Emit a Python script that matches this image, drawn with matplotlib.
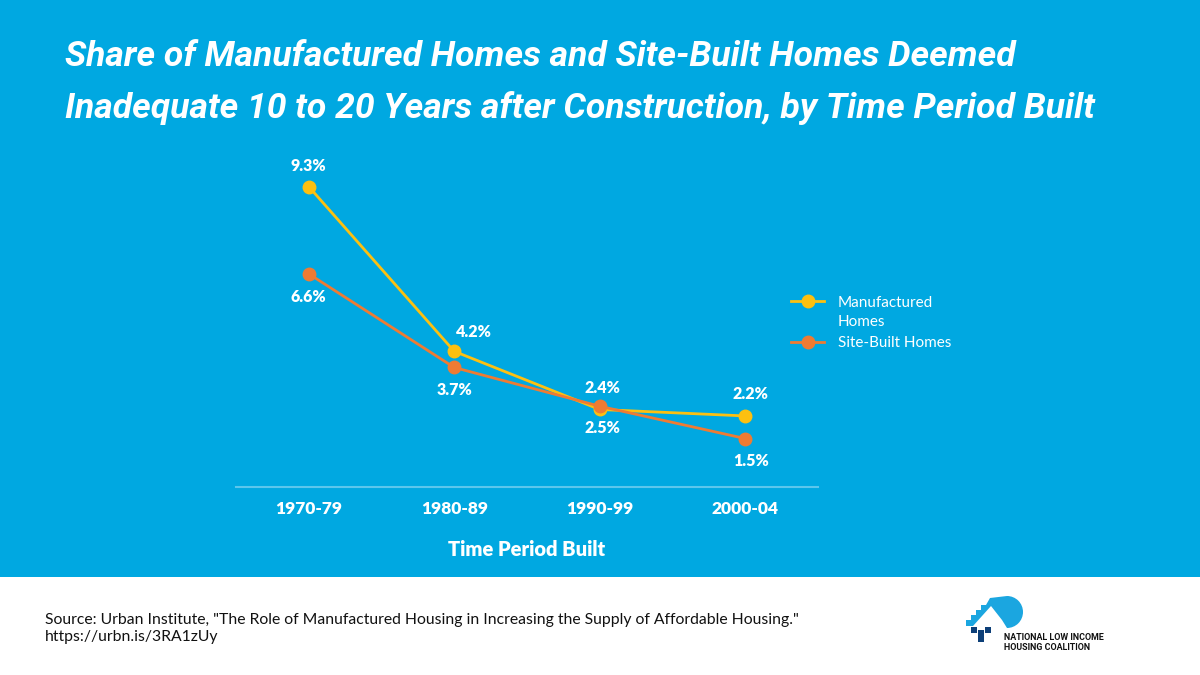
import matplotlib
matplotlib.use("Agg")
import matplotlib.pyplot as plt
from matplotlib.patches import Rectangle, Wedge, Polygon

periods = ["1970-79", "1980-89", "1990-99", "2000-04"]
manufactured = [9.3, 4.2, 2.4, 2.2]
site_built = [6.6, 3.7, 2.5, 1.5]
series_names = ["Manufactured", "Site-Built Homes"]
name_cont = "Homes"  # second line of the first legend label

BLUE = "#00A8E1"
YELLOW = "#FDC010"
ORANGE = "#EE7B33"
FONT = "Lato"
TFONT = "Roboto"

fig = plt.figure(figsize=(12, 6.75), dpi=100)
fig.patch.set_facecolor("white")
fig.add_artist(Rectangle((0, 1 - 577 / 675), 1, 577 / 675, transform=fig.transFigure,
                         facecolor=BLUE, edgecolor="none", zorder=0))

t1 = fig.text(65 / 1200, 1 - 56 / 675,
              "Share of Manufactured Homes and Site-Built Homes Deemed",
              family=TFONT, weight="bold", style="italic",
              fontsize=30, color="white", va="center", ha="left")
t2 = fig.text(65 / 1200, 1 - 108 / 675,
              "Inadequate 10 to 20 Years after Construction, by Time Period Built",
              family=TFONT, weight="bold", style="italic",
              fontsize=30, color="white", va="center", ha="left")
r = fig.canvas.get_renderer()
w2 = t2.get_window_extent(r).width
fs = 30 * 1028 / w2
t1.set_fontsize(fs)
t2.set_fontsize(fs)

ax = fig.add_axes([236 / 1200, 1 - 487 / 675, (818 - 236) / 1200, (487 - 164) / 675])
ax.set_facecolor("none")
x = list(range(len(periods)))
l1, = ax.plot(x, manufactured, color=YELLOW, lw=2, marker="o", ms=9, zorder=3)
l2, = ax.plot(x, site_built, color=ORANGE, lw=2, marker="o", ms=9, zorder=3)
ax.set_xlim(-0.5, 3.5)
ax.set_ylim(0, 10)
for s in ["top", "right", "left"]:
    ax.spines[s].set_visible(False)
ax.spines["bottom"].set_color("#5CC6EC")
ax.spines["bottom"].set_linewidth(1.5)
ax.set_yticks([])
ax.set_xticks(x)
ax.set_xticklabels(periods, family=FONT, weight="heavy", fontsize=12.5, color="white")
ax.tick_params(axis="x", length=0, pad=10)
ax.set_xlabel("Time Period Built", family=FONT, weight="heavy", fontsize=14.5,
              color="white", labelpad=17)

lab_kw = dict(family=FONT, weight="heavy", fontsize=11.5, color="white",
              ha="center", va="center", textcoords="offset points")
m_off = [(0, 15), (14, 14), (2, 15.5), (4, 15.5)]
s_off = [(0, -16.5), (0, -16), (2, -16), (4, -16.5)]
for i, v in enumerate(manufactured):
    ax.annotate(f"{v}%", (x[i], v), xytext=m_off[i], **lab_kw)
for i, v in enumerate(site_built):
    ax.annotate(f"{v}%", (x[i], v), xytext=s_off[i], **lab_kw)

leg = fig.legend([l1, l2], series_names, loc="upper left",
                 bbox_to_anchor=(777 / 1200, 1 - 282 / 675), frameon=False,
                 prop=dict(family=FONT, size=11), labelcolor="white",
                 handlelength=2.2, handletextpad=0.9, labelspacing=1.75)
fig.canvas.draw()
tb = leg.get_texts()[0].get_window_extent(r)
yc = (tb.y0 + tb.y1) / 2 - 19
fig.text(tb.x0 / fig.bbox.width, yc / fig.bbox.height, name_cont,
         family=FONT, fontsize=11, color="white", ha="left", va="center")

src_kw = dict(family=FONT, fontsize=11.3, color="#111111", va="center", ha="left")
fig.text(45 / 1200, 1 - 620 / 675,
         'Source: Urban Institute, "The Role of Manufactured Housing in Increasing the Supply of Affordable Housing."',
         **src_kw)
fig.text(45 / 1200, 1 - 637 / 675, "https://urbn.is/3RA1zUy", **src_kw)

# logo (simplified), pixel coordinates
lax = fig.add_axes([960 / 1200, 1 - 660 / 675, 150 / 1200, 70 / 675])
lax.set_xlim(960, 1110)
lax.set_ylim(660, 590)
lax.axis("off")
LB = "#1BA6E0"
DB = "#0D3F78"
lax.add_patch(Wedge((1007, 612), 16, -90, 90, facecolor=LB, edgecolor="none"))
lax.add_patch(Polygon([(966, 626), (966, 620), (971, 620), (971, 615), (976, 615),
                       (976, 610), (981, 610), (981, 605), (986, 605), (990, 598),
                       (1007, 596), (1007, 628), (1002, 620), (991, 606), (973, 626)],
                      closed=True, facecolor=LB, edgecolor="none"))
for (px, py) in [(971, 627), (978, 630), (985, 627), (978, 636)]:
    lax.add_patch(Rectangle((px, py), 6, 6, facecolor=DB, edgecolor="none"))
lax.text(1004, 637, "NATIONAL LOW INCOME", fontsize=6.4, weight="bold",
         color="#111111", va="center", ha="left", family="Roboto")
lax.text(1004, 647, "HOUSING COALITION", fontsize=6.4, weight="bold",
         color="#111111", va="center", ha="left", family="Roboto")

fig.savefig("out.png", dpi=100, facecolor=fig.get_facecolor())
